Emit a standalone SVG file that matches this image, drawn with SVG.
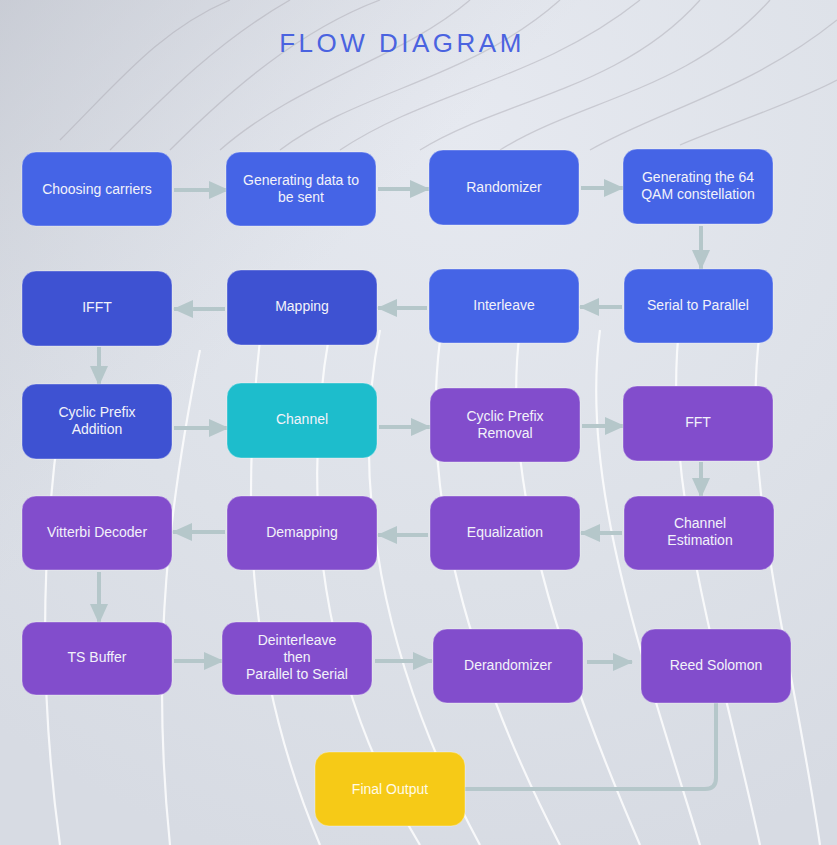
<svg xmlns="http://www.w3.org/2000/svg" width="837" height="845" viewBox="0 0 837 845">
  <defs>
    <radialGradient id="bg" cx="0.55" cy="0.15" r="0.9">
      <stop offset="0" stop-color="#e6e9f0"/>
      <stop offset="0.6" stop-color="#dde1e8"/>
      <stop offset="1" stop-color="#d7dbe3"/>
    </radialGradient>
    <linearGradient id="shade" x1="0" y1="0" x2="1" y2="1">
      <stop offset="0" stop-color="#b9bcc6" stop-opacity="0.55"/>
      <stop offset="0.35" stop-color="#c9ccd5" stop-opacity="0"/>
    </linearGradient>
    <marker id="arrow" markerUnits="userSpaceOnUse" markerWidth="20" markerHeight="18" refX="19" refY="9" orient="auto">
      <path d="M0,0 L20,9 L0,18 Z" fill="#b5c7ca"/>
    </marker>
    <style>
      .node rect { stroke: rgba(255,255,255,0.35); stroke-width: 1; }
      .blue { fill: #4564e6; }
      .dark { fill: #3e52d2; }
      .teal { fill: #1dbdcc; }
      .purple { fill: #824dcc; }
      .yellow { fill: #f6ca17; }
      .node text { font-family: "Liberation Sans", "Noto Sans", sans-serif; font-size: 14px; fill: #f2f2fa; text-anchor: middle; }
      .yellow-label { fill: #fffbe8 !important; }
      .conn { fill: none; stroke: #b5c7ca; stroke-width: 4; }
      .wave-dark { fill: none; stroke: #a9a7b0; stroke-width: 1.3; opacity: 0.45; }
      .wave-light { fill: none; stroke: #ffffff; stroke-width: 2.2; opacity: 0.8; }
      .title { font-family: "Liberation Sans", "Noto Sans", sans-serif; font-size: 26px; fill: #4a63e0; letter-spacing: 3.5px; text-anchor: middle; }
    </style>
  </defs>

  <!-- backdrop -->
  <rect x="0" y="0" width="837" height="845" fill="url(#bg)"/>
  <rect x="0" y="0" width="837" height="845" fill="url(#shade)"/>

  <!-- dark wave lines in the upper area -->
  <g id="waves-dark">
    <path class="wave-dark" d="M60 140 C120 80 160 30 230 0"/>
    <path class="wave-dark" d="M110 150 C170 90 220 40 290 0"/>
    <path class="wave-dark" d="M170 150 C230 90 300 30 380 0"/>
    <path class="wave-dark" d="M220 150 C300 80 400 60 470 0"/>
    <path class="wave-dark" d="M280 150 C360 90 470 80 560 0"/>
    <path class="wave-dark" d="M340 150 C430 90 540 80 640 0"/>
    <path class="wave-dark" d="M420 150 C500 100 620 90 700 0"/>
    <path class="wave-dark" d="M500 150 C580 100 690 90 770 0"/>
    <path class="wave-dark" d="M590 150 C660 110 750 90 837 20"/>
    <path class="wave-dark" d="M680 145 C740 120 800 100 837 80"/>
  </g>

  <!-- light wave lines in the lower area -->
  <g id="waves-light">
    <path class="wave-light" d="M200 350 C170 500 150 650 170 845"/>
    <path class="wave-light" d="M260 340 C240 520 250 680 320 845"/>
    <path class="wave-light" d="M330 330 C300 500 320 680 420 845"/>
    <path class="wave-light" d="M380 330 C350 480 380 660 480 845"/>
    <path class="wave-light" d="M440 340 C420 500 470 670 560 845"/>
    <path class="wave-light" d="M520 330 C500 480 560 660 640 845"/>
    <path class="wave-light" d="M600 330 C580 480 640 650 700 845"/>
    <path class="wave-light" d="M680 320 C660 480 720 660 760 845"/>
    <path class="wave-light" d="M760 330 C740 480 790 640 820 845"/>
    <path class="wave-light" d="M60 420 C40 560 40 700 60 845"/>
  </g>

  <text class="title" x="402" y="52">FLOW DIAGRAM</text>

  <!-- connectors -->
  <g id="connectors">
    <line class="conn" x1="174" y1="190" x2="228" y2="190" marker-end="url(#arrow)"/>
    <line class="conn" x1="378" y1="189" x2="429" y2="189" marker-end="url(#arrow)"/>
    <line class="conn" x1="581" y1="188" x2="623" y2="188" marker-end="url(#arrow)"/>
    <line class="conn" x1="701" y1="226" x2="701" y2="269" marker-end="url(#arrow)"/>
    <line class="conn" x1="622" y1="307" x2="580" y2="307" marker-end="url(#arrow)"/>
    <line class="conn" x1="427" y1="308" x2="378" y2="308" marker-end="url(#arrow)"/>
    <line class="conn" x1="225" y1="309" x2="174" y2="309" marker-end="url(#arrow)"/>
    <line class="conn" x1="99" y1="347" x2="99" y2="385" marker-end="url(#arrow)"/>
    <line class="conn" x1="174" y1="428" x2="228" y2="428" marker-end="url(#arrow)"/>
    <line class="conn" x1="379" y1="427" x2="430" y2="427" marker-end="url(#arrow)"/>
    <line class="conn" x1="582" y1="426" x2="624" y2="426" marker-end="url(#arrow)"/>
    <line class="conn" x1="701" y1="462" x2="701" y2="497" marker-end="url(#arrow)"/>
    <line class="conn" x1="622" y1="533" x2="581" y2="533" marker-end="url(#arrow)"/>
    <line class="conn" x1="428" y1="535" x2="378" y2="535" marker-end="url(#arrow)"/>
    <line class="conn" x1="225" y1="532" x2="173" y2="532" marker-end="url(#arrow)"/>
    <line class="conn" x1="99" y1="572" x2="99" y2="623" marker-end="url(#arrow)"/>
    <line class="conn" x1="174" y1="661" x2="223" y2="661" marker-end="url(#arrow)"/>
    <line class="conn" x1="375" y1="661" x2="432" y2="661" marker-end="url(#arrow)"/>
    <line class="conn" x1="587" y1="662" x2="632" y2="662" marker-end="url(#arrow)"/>
    <path class="conn" d="M716 703 V778 Q716 789 705 789 H465"/>
  </g>

  <!-- nodes -->
  <g id="choosing-carriers" class="node">
    <rect class="blue" x="22" y="152" width="150" height="74" rx="14"/>
    <text x="97" y="194">Choosing carriers</text>
  </g>
  <g id="generating-data" class="node">
    <rect class="blue" x="226" y="152" width="150" height="74" rx="14"/>
    <text x="301" y="185">Generating data to</text>
    <text x="301" y="202">be sent</text>
  </g>
  <g id="randomizer" class="node">
    <rect class="blue" x="429" y="150" width="150" height="75" rx="14"/>
    <text x="504" y="192">Randomizer</text>
  </g>
  <g id="qam-constellation" class="node">
    <rect class="blue" x="623" y="149" width="150" height="75" rx="14"/>
    <text x="698" y="182">Generating the 64</text>
    <text x="698" y="199">QAM constellation</text>
  </g>

  <g id="ifft" class="node">
    <rect class="dark" x="22" y="271" width="150" height="75" rx="14"/>
    <text x="97" y="312">IFFT</text>
  </g>
  <g id="mapping" class="node">
    <rect class="dark" x="227" y="270" width="150" height="75" rx="14"/>
    <text x="302" y="311">Mapping</text>
  </g>
  <g id="interleave" class="node">
    <rect class="blue" x="429" y="269" width="150" height="74" rx="14"/>
    <text x="504" y="310">Interleave</text>
  </g>
  <g id="serial-to-parallel" class="node">
    <rect class="blue" x="624" y="269" width="149" height="74" rx="14"/>
    <text x="698" y="310">Serial to Parallel</text>
  </g>

  <g id="cyclic-prefix-addition" class="node">
    <rect class="dark" x="22" y="384" width="150" height="75" rx="14"/>
    <text x="97" y="417">Cyclic Prefix</text>
    <text x="97" y="434">Addition</text>
  </g>
  <g id="channel" class="node">
    <rect class="teal" x="227" y="383" width="150" height="75" rx="14"/>
    <text x="302" y="424">Channel</text>
  </g>
  <g id="cyclic-prefix-removal" class="node">
    <rect class="purple" x="430" y="388" width="150" height="74" rx="14"/>
    <text x="505" y="421">Cyclic Prefix</text>
    <text x="505" y="438">Removal</text>
  </g>
  <g id="fft" class="node">
    <rect class="purple" x="623" y="386" width="150" height="75" rx="14"/>
    <text x="698" y="427">FFT</text>
  </g>

  <g id="vitterbi-decoder" class="node">
    <rect class="purple" x="22" y="496" width="150" height="74" rx="14"/>
    <text x="97" y="537">Vitterbi Decoder</text>
  </g>
  <g id="demapping" class="node">
    <rect class="purple" x="227" y="496" width="150" height="74" rx="14"/>
    <text x="302" y="537">Demapping</text>
  </g>
  <g id="equalization" class="node">
    <rect class="purple" x="430" y="496" width="150" height="74" rx="14"/>
    <text x="505" y="537">Equalization</text>
  </g>
  <g id="channel-estimation" class="node">
    <rect class="purple" x="624" y="496" width="150" height="74" rx="14"/>
    <text x="700" y="528">Channel</text>
    <text x="700" y="545">Estimation</text>
  </g>

  <g id="ts-buffer" class="node">
    <rect class="purple" x="22" y="622" width="150" height="73" rx="14"/>
    <text x="97" y="662">TS Buffer</text>
  </g>
  <g id="deinterleave" class="node">
    <rect class="purple" x="222" y="622" width="150" height="73" rx="14"/>
    <text x="297" y="645">Deinterleave</text>
    <text x="297" y="662">then</text>
    <text x="297" y="679">Parallel to Serial</text>
  </g>
  <g id="derandomizer" class="node">
    <rect class="purple" x="433" y="629" width="150" height="74" rx="14"/>
    <text x="508" y="670">Derandomizer</text>
  </g>
  <g id="reed-solomon" class="node">
    <rect class="purple" x="641" y="629" width="150" height="74" rx="14"/>
    <text x="716" y="670">Reed Solomon</text>
  </g>

  <g id="final-output" class="node">
    <rect class="yellow" x="315" y="752" width="150" height="74" rx="14"/>
    <text class="yellow-label" x="390" y="794">Final Output</text>
  </g>
</svg>
